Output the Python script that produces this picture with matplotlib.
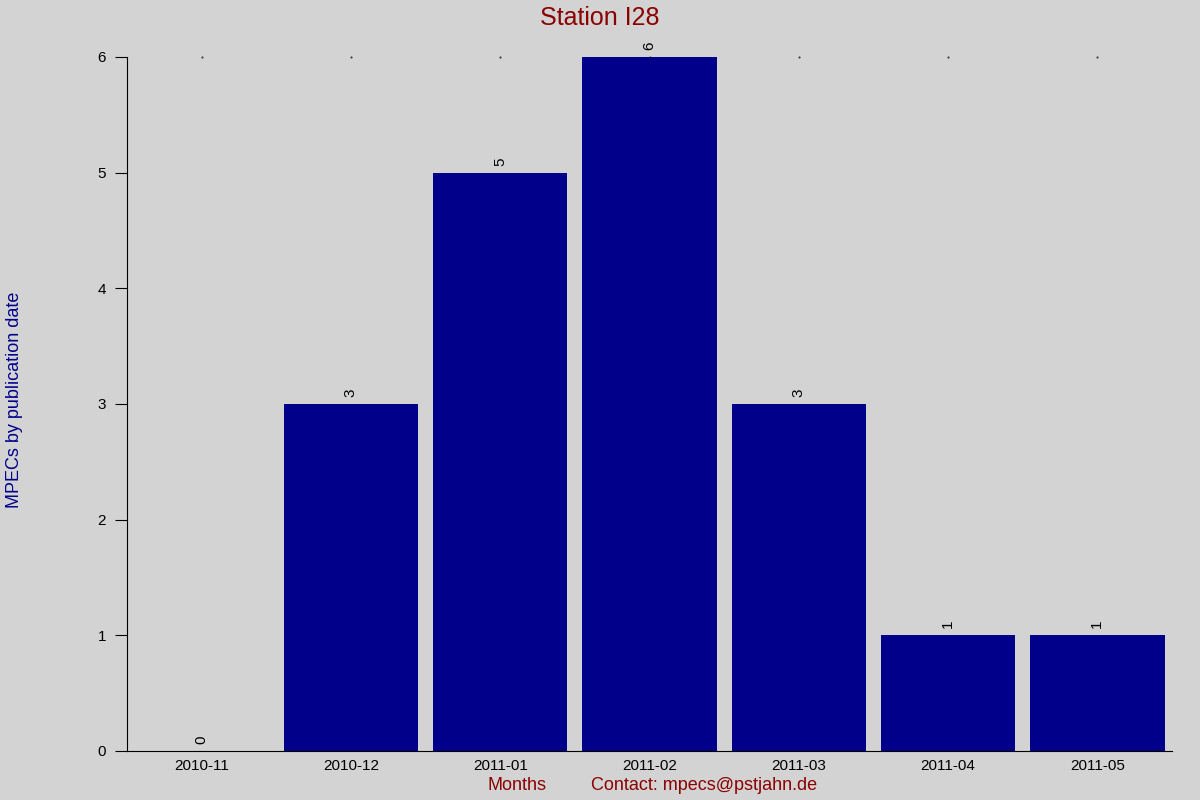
import matplotlib
matplotlib.use("Agg")
import matplotlib.pyplot as plt

months = ["2010-11", "2010-12", "2011-01", "2011-02", "2011-03", "2011-04", "2011-05"]
counts = [0, 3, 5, 6, 3, 1, 1]

plt.rcParams['font.family'] = ['Liberation Sans', 'DejaVu Sans']

bg = "#d3d3d3"
fig = plt.figure(figsize=(12, 8), dpi=100, facecolor=bg)
ax = fig.add_axes([127 / 1200, 49 / 800, 1045 / 1200, 694 / 800])
ax.set_facecolor(bg)

x = range(len(months))
ax.bar(x, counts, width=0.9, color="#00008b")
for i, c in zip(x, counts):
    ax.text(i, c + 0.06, str(c), rotation=90, ha="center", va="bottom", fontsize=11)

ax.set_xlim(-0.5, len(months) - 0.5)
ax.set_ylim(0, 6)
ax.set_xticks(list(x))
ax.set_xticklabels(months, fontsize=11)
ax.tick_params(axis="x", length=0, pad=6)
ax.tick_params(axis="y", direction="out", length=9, labelsize=11, pad=6)

# tiny dots along the top edge
for i in x:
    ax.plot(i, 6, marker=".", markersize=0.8, color="black", clip_on=False)

for s in ["top", "right"]:
    ax.spines[s].set_visible(False)

fig.text(0.5, 0.977, "Station I28", ha="center", va="center", fontsize=18, color="#8b0000")
fig.text(0.012, 0.5, "MPECs by publication date", rotation=90, ha="center", va="center",
         fontsize=13, color="#00008b")
fig.text(517 / 1200, 14 / 800, "Months", ha="center", va="center", fontsize=13, color="#8b0000")
fig.text(704 / 1200, 14 / 800, "Contact: mpecs@pstjahn.de", ha="center", va="center",
         fontsize=13, color="#8b0000")

fig.savefig("out.png", facecolor=bg)
